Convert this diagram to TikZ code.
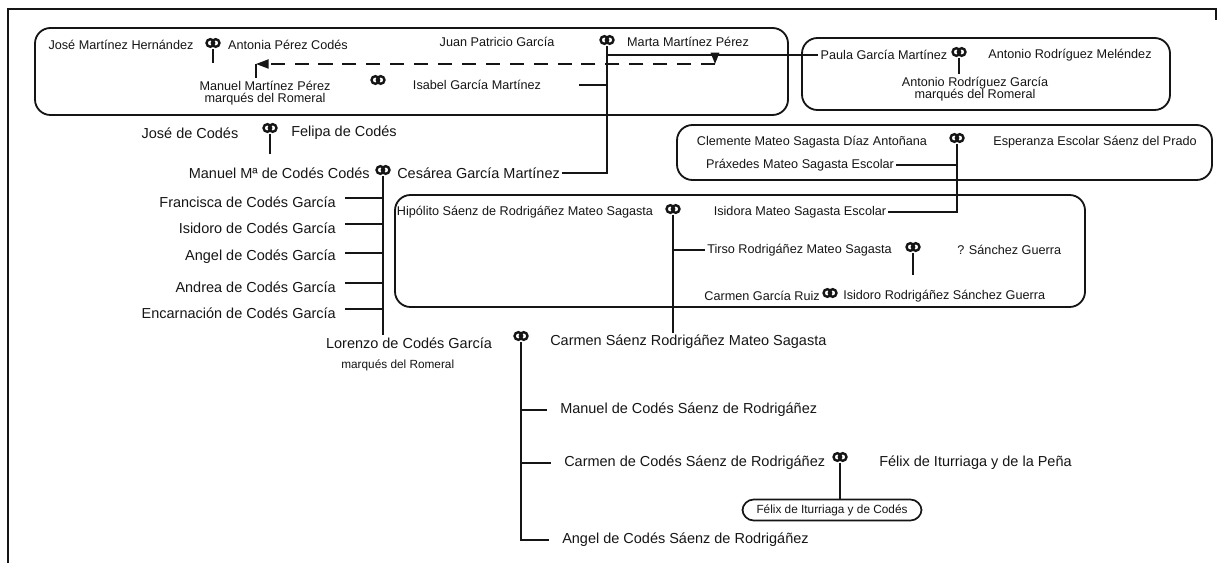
\documentclass[tikz,border=0pt]{standalone}
\usepackage{fontspec}
\setmainfont{Liberation Sans}
\usepackage{tikz}
\usetikzlibrary{arrows.meta,positioning,calc}
\definecolor{Ink}{HTML}{151515}
\newcommand{\fsbig}{\fontsize{10.3}{12}\selectfont}
\newcommand{\fssmall}{\fontsize{9}{9}\selectfont}
\newcommand{\fstiny}{\fontsize{8.4}{9}\selectfont}

\begin{document}
\begin{tikzpicture}[x=0.025cm,y=-0.025cm,color=Ink,line width=1.2pt,
    bigp/.style={font=\fsbig,inner sep=1pt},
    smallp/.style={font=\fssmall,inner sep=1pt},
    titlep/.style={font=\fstiny,inner sep=1pt},
    famgroup/.style={line width=1.3pt,rounded corners=11pt},
    wed/.style={inner sep=0pt,minimum width=12pt,minimum height=8pt,
      path picture={\draw[line width=1.7pt]
        ([xshift=-1.9pt]path picture bounding box.center) circle (2.7pt)
        ([xshift=1.9pt]path picture bounding box.center) circle (2.7pt);}},
    longdash/.style={dash pattern=on 10pt off 7pt}]
        \useasboundingbox (0,0) rectangle (1220,563);
        \draw[line width=1.4pt] (1216,20) -- (1216,9) -- (8,9) -- (8,563);

        % Martinez / Garcia group
        \draw[famgroup] (35,28) rectangle (788,115);
        \node[smallp] (jmh) at (121,45) {José Martínez Hernández};
        \node[wed] (w1) at (213,43) {};
        \node[smallp] (apc) at (288,45) {Antonia Pérez Codés};
        \node[smallp] (jpg) at (497,42) {Juan Patricio García};
        \node[wed] (w2) at (607,40) {};
        \node[smallp] (mmp) at (688,42) {Marta Martínez Pérez};
        \node[smallp,align=center] (mmz) at (265,93) {Manuel Martínez Pérez\\marqués del Romeral};
        \node[wed] (w3) at (378,80) {};
        \node[smallp] (igm) at (477,85) {Isabel García Martínez};
        \coordinate (w1d) at (213,63);
        \draw (w1.south) -- (w1d);

        % Rodriguez group
        \draw[famgroup] (802,38) rectangle (1170,110);
        \node[smallp] (pgm) at (884,55) {Paula García Martínez};
        \node[wed] (w4) at (959,52) {};
        \node[smallp] (arm) at (1070,55) {Antonio Rodríguez Meléndez};
        \node[smallp,align=center] (arg) at (975,89) {Antonio Rodríguez García\\marqués del Romeral};
        \draw (w4.south) -- (w4.south |- arg.north);

        % dashed title line
        \coordinate (d1) at (715,53);
        \coordinate (d2) at (715,64);
        \coordinate (d3) at (256,64);
        \draw[-{Triangle[length=8pt,width=6pt]}] (d1) -- (d2);
        \draw[longdash,-{Triangle[length=9pt,width=6.5pt]}] (d2) -- (d3);
        \draw (d3) -- (d3 |- mmz.north);

        % Sagasta group
        \draw[famgroup] (677,125) rectangle (1212,180);
        \node[smallp] (cms) at (812,142) {Clemente Mateo Sagasta Díaz Antoñana};
        \node[wed] (w5) at (957,138) {};
        \node[smallp] (ees) at (1095,142) {Esperanza Escolar Sáenz del Prado};
        \node[smallp] (pms) at (800,165) {Práxedes Mateo Sagasta Escolar};

        % Rodriganez group
        \draw[famgroup] (395,195) rectangle (1085,307);
        \node[smallp] (hsr) at (525,212) {Hipólito Sáenz de Rodrigáñez Mateo Sagasta};
        \node[wed] (w6) at (673,209) {};
        \node[smallp] (ims) at (800,212) {Isidora Mateo Sagasta Escolar};
        \node[smallp,anchor=west] (trm) at (705,250) {Tirso Rodrigáñez Mateo Sagasta};
        \node[wed] (w7) at (913,247) {};
        \node[smallp,anchor=west] (ssg) at (955,250) {? Sánchez Guerra};
        \node[smallp,anchor=east] (cgr) at (822,296) {Carmen García Ruiz};
        \node[wed] (w8) at (830,293) {};
        \node[smallp,anchor=west] (irs) at (841,296) {Isidoro Rodrigáñez Sánchez Guerra};
        \coordinate (w7d) at (913,275);
        \draw (w7.south) -- (w7d);

        % Codes family
        \node[bigp] (jdc) at (190,133) {José de Codés};
        \node[wed] (w9) at (270,128) {};
        \node[bigp] (fdc) at (344,133) {Felipa de Codés};
        \coordinate (w9d) at (270,154);
        \draw (w9.south) -- (w9d);
        \node[bigp,anchor=east] (mmc) at (372,173) {Manuel Mª de Codés Codés};
        \node[wed] (w10) at (383,170) {};
        \node[bigp,anchor=west] (cgm) at (395,173) {Cesárea García Martínez};
        \foreach \n/\y/\t in {fcg/202/Francisca de Codés García,icg/228/Isidoro de Codés García,
            acg/257/Angel de Codés García,adc/287/Andrea de Codés García,
            ecg/313/Encarnación de Codés García}{
          \node[bigp,anchor=east] (\n) at (338,\y) {\t};
          \draw ([xshift=5pt,yshift=3pt]\n.east) -| (w10.south);
        }
        \node[bigp] (lor) at (409,343) {Lorenzo de Codés García};
        \node[titlep,below=5pt of lor,xshift=-8pt] (lort) {marqués del Romeral};
        \node[wed] (w11) at (521,336) {};
        \node[bigp,anchor=west] (csr) at (548,342) {Carmen Sáenz Rodrigáñez Mateo Sagasta};
        \node[bigp,anchor=west] (mcs) at (558,410) {Manuel de Codés Sáenz de Rodrigáñez};
        \node[bigp,anchor=west] (ccs) at (562,463) {Carmen de Codés Sáenz de Rodrigáñez};
        \node[wed] (w12) at (840,457) {};
        \node[bigp,anchor=west] (fip) at (877,463) {Félix de Iturriaga y de la Peña};
        \node[titlep,draw,rounded corners=8pt,inner xsep=10pt,inner ysep=3.5pt] (fic) at (832,510)
              {Félix de Iturriaga y de Codés};
        \node[bigp,anchor=west] (acs) at (560,540) {Angel de Codés Sáenz de Rodrigáñez};

        % descent lines
        \draw (w2.south |- pgm.west) -- (pgm.west);
        \draw (w2.south) |- (cgm.east);
        \draw[shorten >=0.9cm] (w2.south |- igm.east) -- (igm.east);
        \draw (pms.east) -- (w5.south |- pms.east);
        \draw (w5.south) |- (ims.east);
        \draw (w6.south |- trm.west) -- (trm.west);
        \draw (w6.south) -- (w6.south |- csr.north);
        \draw (w10.south) -- (w10.south |- lor.north);
        \draw (w11.south) |- ([xshift=-8pt]acs.west);
        \foreach \n in {mcs,ccs}{
          \draw ([xshift=-8pt]\n.west) -| (w11.south);
        }
        \draw (w12.south) -- (w12.south |- fic.north);
      \end{tikzpicture}
\end{document}
